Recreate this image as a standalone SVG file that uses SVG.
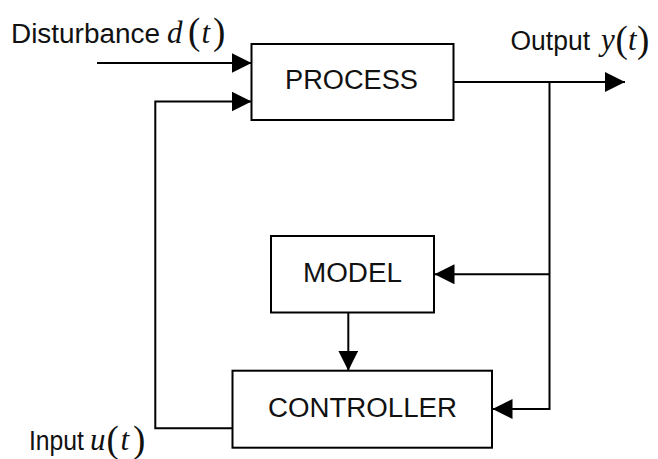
<svg xmlns="http://www.w3.org/2000/svg" width="658" height="459" viewBox="0 0 658 459">
  <defs>
    <style>
      .box { fill: #ffffff; stroke: #000; stroke-width: 2; }
      .lbl { font-family: "Liberation Sans", Arial, sans-serif; font-size: 27px; fill: #111; }
      .mi { font-family: "Liberation Serif", "Times New Roman", serif; font-style: italic; font-size: 31px; fill: #111; }
      .par { font-family: "Liberation Serif", "Times New Roman", serif; font-style: normal; font-size: 37px; }
      .wire { fill: none; stroke: #000; stroke-width: 2; }
    </style>
    <marker id="ah" viewBox="0 0 20 20" refX="20" refY="10" markerWidth="20" markerHeight="20" markerUnits="userSpaceOnUse" orient="auto">
      <path d="M0,0 L20,10 L0,20 Z" fill="#000"/>
    </marker>
  </defs>
  <rect width="658" height="459" fill="#ffffff"/>

  <g id="process">
    <rect class="box" x="251.5" y="44" width="202" height="76"/>
    <text class="lbl" x="285" y="89.3" textLength="133" lengthAdjust="spacingAndGlyphs">PROCESS</text>
  </g>
  <g id="model">
    <rect class="box" x="271" y="236" width="163" height="76.5"/>
    <text class="lbl" x="303" y="282" textLength="99" lengthAdjust="spacingAndGlyphs">MODEL</text>
  </g>
  <g id="controller">
    <rect class="box" x="232.5" y="370.7" width="259.5" height="77"/>
    <text class="lbl" x="268" y="417.3" textLength="189" lengthAdjust="spacingAndGlyphs">CONTROLLER</text>
  </g>

  <g id="labels">
    <text id="disturbance" class="lbl" x="11" y="42.7" textLength="149" lengthAdjust="spacingAndGlyphs">Disturbance</text>
    <text id="dt" class="mi" x="167" y="42.7">d<tspan class="par" x="188" dy="1.5">(</tspan><tspan x="201.5" dy="-1.5">t</tspan><tspan class="par" x="213" dy="1.5">)</tspan></text>

    <text id="output" class="lbl" x="510.5" y="50" textLength="79.5" lengthAdjust="spacingAndGlyphs">Output</text>
    <text id="yt" class="mi" x="601" y="50">y<tspan class="par" x="615.5" dy="1.5">(</tspan><tspan x="628" dy="-1.5">t</tspan><tspan class="par" x="637" dy="1.5">)</tspan></text>

    <text id="input" class="lbl" x="29" y="450" textLength="55" lengthAdjust="spacingAndGlyphs">Input</text>
    <text id="ut" class="mi" x="90" y="450">u<tspan class="par" x="106.5" dy="1.5">(</tspan><tspan x="120.5" dy="-1.5">t</tspan><tspan class="par" x="133" dy="1.5">)</tspan></text>
  </g>

  <g id="connectors">
    <path class="wire" d="M97,63 H251.5" marker-end="url(#ah)"/>
    <path class="wire" d="M232.5,428.3 H155.3 V101.5 H251.5" marker-end="url(#ah)"/>
    <path class="wire" d="M453.5,82 H625" marker-end="url(#ah)"/>
    <path class="wire" d="M549.5,82 V409 H492.5" marker-end="url(#ah)"/>
    <path class="wire" d="M549.5,274.3 H434.5" marker-end="url(#ah)"/>
    <path class="wire" d="M348.3,312.5 V370.7" marker-end="url(#ah)"/>
  </g>
</svg>
